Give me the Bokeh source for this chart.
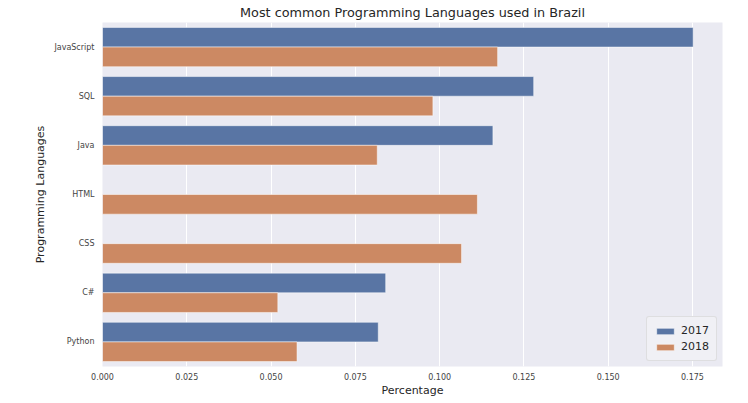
from bokeh.plotting import figure
from bokeh.models import ColumnDataSource, FactorRange, Range1d, FixedTicker, NumeralTickFormatter, Legend, LegendItem
from bokeh.transform import dodge
from bokeh.embed import file_html
from bokeh.resources import INLINE

languages = ["JavaScript", "SQL", "Java", "HTML", "CSS", "C#", "Python"]
values_2017 = [0.1752, 0.1279, 0.1158, None, None, 0.0840, 0.0818]
values_2018 = [0.1172, 0.0980, 0.0815, 0.1112, 0.1065, 0.0520, 0.0577]
years = ["2017", "2018"]
x_ticks = [0.0, 0.025, 0.05, 0.075, 0.1, 0.125, 0.15, 0.175]

FONT = "DejaVu Sans"
TXT = "#262626"

src17 = ColumnDataSource(dict(
    lang=[l for l, v in zip(languages, values_2017) if v is not None],
    val=[v for v in values_2017 if v is not None]))
src18 = ColumnDataSource(dict(lang=languages, val=values_2018))

p = figure(y_range=FactorRange(factors=languages[::-1]),
           x_range=Range1d(0, 0.1839),
           frame_width=620, frame_height=344,
           output_backend="svg", toolbar_location=None,
           title="Most common Programming Languages used in Brazil")
p.min_border_left = 102
p.min_border_right = 18
p.min_border_top = 0
p.min_border_bottom = 0

r17 = p.hbar(y=dodge("lang", 0.2, range=p.y_range), right="val", left=0, height=0.4,
             source=src17, fill_color="#5975A4", line_color="white", line_alpha=0.5, line_width=1)
r18 = p.hbar(y=dodge("lang", -0.2, range=p.y_range), right="val", left=0, height=0.4,
             source=src18, fill_color="#CC8963", line_color="white", line_alpha=0.5, line_width=1)

p.background_fill_color = "#EAEAF2"
p.border_fill_color = "white"
p.outline_line_color = None
p.xgrid.grid_line_color = "white"
p.xgrid.grid_line_width = 1
p.ygrid.visible = False

p.title.text_font = FONT
p.title.text_font_size = "12.8px"
p.title.text_font_style = "normal"
p.title.text_color = TXT
p.title.align = "center"
p.title.standoff = 5

p.xaxis.ticker = FixedTicker(ticks=x_ticks)
p.xaxis.formatter = NumeralTickFormatter(format="0.000")
for ax in (p.xaxis[0], p.yaxis[0]):
    ax.axis_line_color = None
    ax.major_tick_line_color = None
    ax.minor_tick_line_color = None
    ax.major_tick_out = 0
    ax.major_tick_in = 0
    ax.major_label_text_font = FONT
    ax.major_label_text_font_size = "8px"
    ax.major_label_text_color = "#444444"
    ax.axis_label_text_font = FONT
    ax.axis_label_text_font_size = "11px"
    ax.axis_label_text_font_style = "normal"
    ax.axis_label_text_color = TXT
p.xaxis.axis_label = "Percentage"
p.yaxis.axis_label = "Programming Languages"
p.xaxis.major_label_standoff = 6
p.xaxis.axis_label_standoff = 1
p.yaxis.major_label_standoff = 8
p.yaxis.axis_label_standoff = 4

legend = Legend(items=[LegendItem(label=years[0], renderers=[r17]),
                       LegendItem(label=years[1], renderers=[r18])],
                location="bottom_right")
legend.label_text_font = FONT
legend.label_text_font_size = "11px"
legend.label_text_color = TXT
legend.glyph_width = 22
legend.glyph_height = 8
legend.label_height = 12
legend.spacing = 3
legend.padding = 7
legend.margin = 5
legend.background_fill_color = "#F0F0F5"
legend.background_fill_alpha = 1
legend.border_line_color = "#CCCCCC"
legend.border_radius = 3
p.add_layout(legend, "center")

open("out.html", "w").write(file_html(p, INLINE))
